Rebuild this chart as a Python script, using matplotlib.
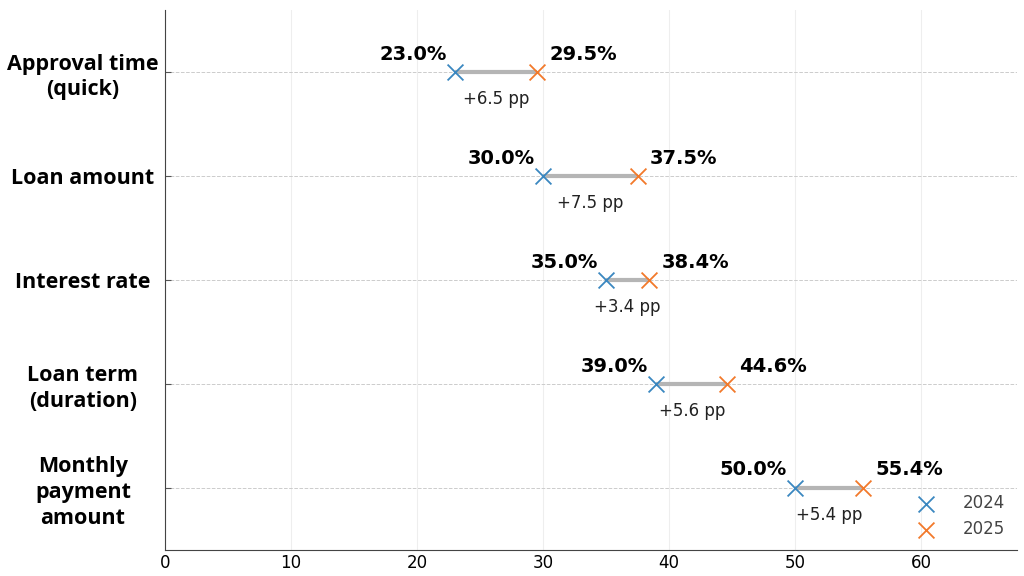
import os
import matplotlib
import matplotlib.pyplot as plt
from matplotlib.font_manager import FontProperties
import numpy as np

# Loan feature importance, 2024 vs 2025
categories = ["Approval time\n(quick)", "Loan amount", "Interest rate",
              "Loan term\n(duration)", "Monthly\npayment\namount"]
vals_2024 = [23.0, 30.0, 35.0, 39.0, 50.0]
vals_2025 = [29.5, 37.5, 38.4, 44.6, 55.4]

c24 = '#3a87c0'
c25 = '#f2792a'

fdir = os.path.join(matplotlib.get_data_path(), 'fonts', 'ttf')
reg = os.path.join(fdir, 'DejaVuSans.ttf')
bold = os.path.join(fdir, 'DejaVuSans-Bold.ttf')
fp_bold = FontProperties(fname=bold, size=14)
fp_delta = FontProperties(fname=reg, size=12)
fp_tick = FontProperties(fname=reg, size=12)

fig = plt.figure(figsize=(10.24, 5.76), dpi=100)
ax = fig.add_axes([0.161, 0.045, 0.832, 0.938])

y = np.arange(len(categories))
for i in range(len(categories)):
    a, b = vals_2024[i], vals_2025[i]
    ax.plot([a, b], [y[i], y[i]], color='#b5b5b5', lw=3, zorder=2, solid_capstyle='butt')
    ax.annotate(f"{a:.1f}%", (a, y[i]), xytext=(-6, 6), textcoords='offset points',
                ha='right', va='bottom', fontproperties=fp_bold)
    ax.annotate(f"{b:.1f}%", (b, y[i]), xytext=(9, 6), textcoords='offset points',
                ha='left', va='bottom', fontproperties=fp_bold)
    ax.annotate(f"+{b - a:.1f} pp", ((a + b) / 2, y[i]), xytext=(0, -13), textcoords='offset points',
                ha='center', va='top', fontproperties=fp_delta, color='#222222')

ax.scatter(vals_2024, y, marker='x', s=130, color=c24, lw=1.3, zorder=3, label='2024')
ax.scatter(vals_2025, y, marker='x', s=130, color=c25, lw=1.3, zorder=3, label='2025')

ax.set_xlim(0, max(vals_2025) * 1.22)
ax.set_ylim(len(categories) - 0.4, -0.6)
ax.set_yticks(y)
ax.set_yticklabels(categories, fontsize=15.5, fontweight='bold', family='Open Sans',
                   ha='center', linespacing=1.3)
ax.tick_params(axis='y', pad=59, length=4, direction='in', color='#555555')
ax.tick_params(axis='x', length=0, pad=3)
for lab in ax.get_xticklabels():
    lab.set_fontproperties(fp_tick)

ax.grid(axis='x', color='#eeeeee', lw=0.8)
ax.grid(axis='y', color='#cccccc', lw=0.7, ls='--')
ax.set_axisbelow(True)
for s in ['top', 'right']:
    ax.spines[s].set_visible(False)
ax.spines['left'].set_color('#444444')
ax.spines['bottom'].set_color('#444444')

leg = ax.legend(loc='lower right', frameon=False, prop=FontProperties(fname=reg, size=12),
                handletextpad=1.2, borderaxespad=0.3, labelspacing=0.5)
for t in leg.get_texts():
    t.set_color('#444444')

plt.savefig('out.png', dpi=100)
